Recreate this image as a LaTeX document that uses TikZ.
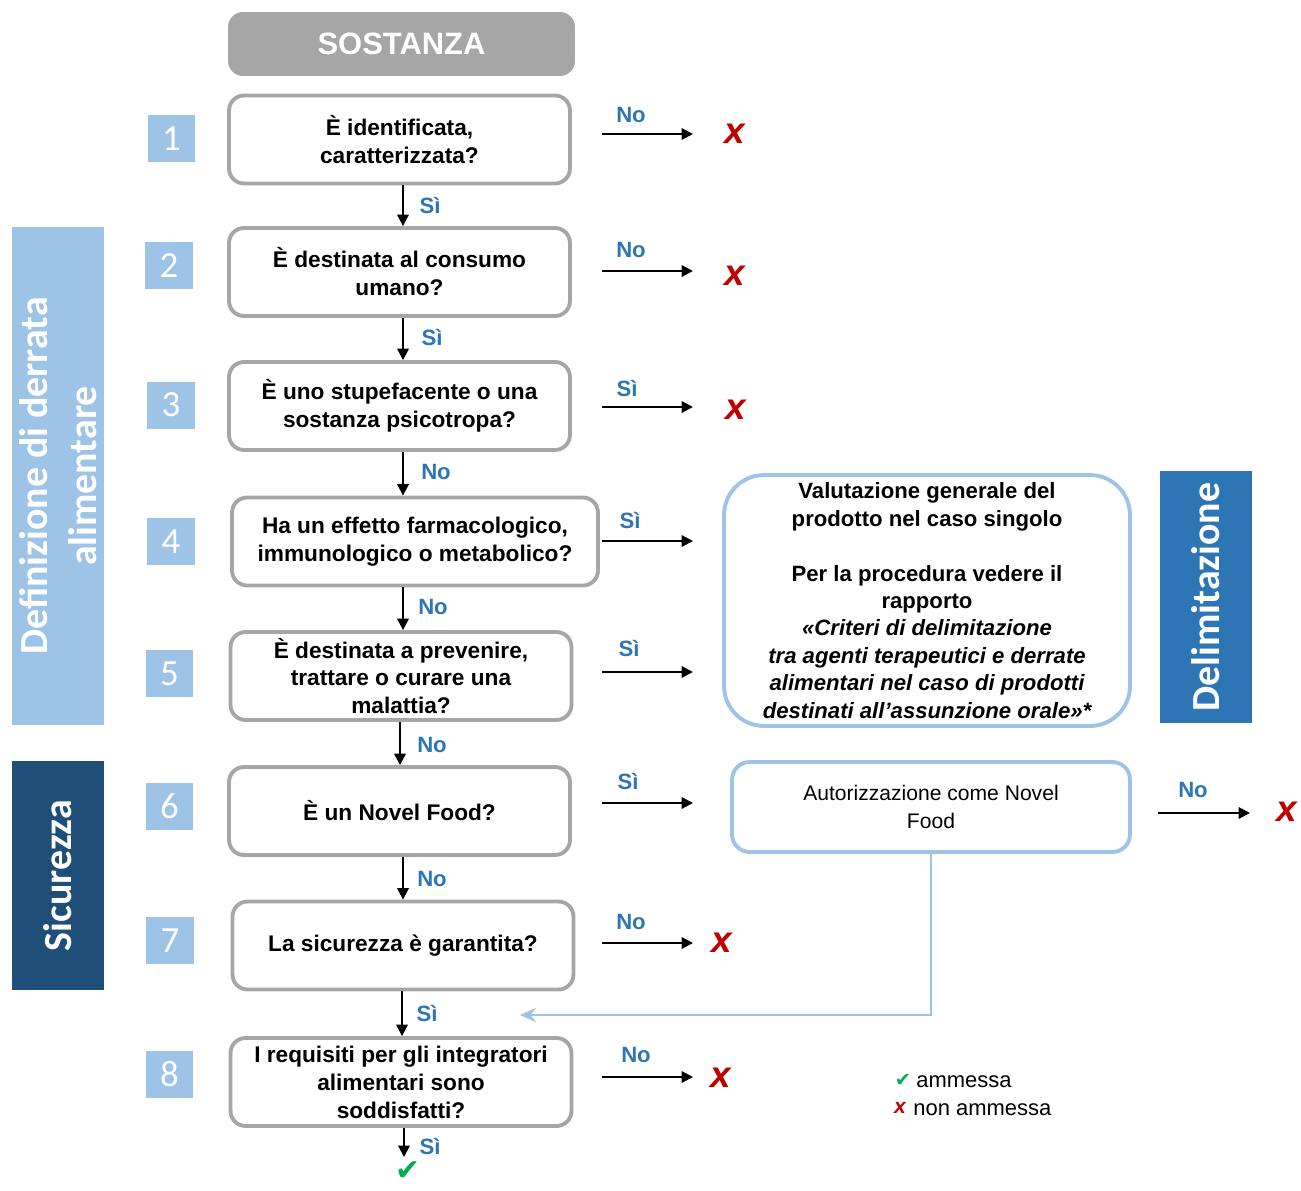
\documentclass[tikz,border=0pt]{standalone}
\usepackage{fontspec}
\setmainfont{Liberation Sans}
\newfontfamily\carl{Carlito}
\newfontfamily\djv{DejaVu Sans}
\usetikzlibrary{arrows.meta}
\definecolor{gbox}{HTML}{A6A6A6}
\definecolor{lblue}{HTML}{9DC3E6}
\definecolor{mblue}{HTML}{2E75B6}
\definecolor{dblue}{HTML}{1F4E79}
\definecolor{xred}{HTML}{C00000}
\definecolor{okgreen}{HTML}{00B050}
\begin{document}
\begin{tikzpicture}[x=0.02cm,y=-0.02cm,
  qbox/.style={draw=gbox, line width=2.2pt, rounded corners=0.3cm, fill=white,
    minimum width=6.82cm, minimum height=1.76cm, align=center, inner sep=0pt,
    font=\fontsize{12.9}{15.9}\selectfont\bfseries},
  bbox/.style={draw=lblue, line width=2.2pt, fill=white, align=center, inner sep=0pt},
  numbox/.style={fill=lblue, minimum width=0.96cm, minimum height=0.94cm, text=white,
    inner sep=0pt, font=\carl\fontsize{21}{21}\selectfont},
  band/.style={rotate=90, minimum height=1.84cm, text=white, align=center, inner sep=0pt,
    font=\carl\bfseries\fontsize{22.7}{28.3}\selectfont},
  arr/.style={line width=1.2pt, -{Triangle[length=6.5pt,width=6.5pt]}},
  lbarr/.style={draw=lblue, line width=1.6pt, -{Stealth[length=9pt,width=8pt]}},
  lab/.style={text=mblue, inner sep=0pt, font=\fontsize{12.6}{14}\selectfont\bfseries},
  nox/.style={text=xred, inner sep=0pt, font=\fontsize{21}{21}\selectfont\bfseries\itshape},
  okmark/.style={text=okgreen, inner sep=0pt, font=\djv\fontsize{17}{17}\selectfont},
  legtxt/.style={anchor=west, inner sep=0pt, font=\fontsize{12.5}{14}\selectfont}
]
\useasboundingbox (0,0) rectangle (1301,1190);

% side bands
\node[band, fill=lblue, minimum width=9.96cm] (bdef) at (58,476) {Definizione di derrata\\alimentare};
\node[band, fill=dblue, minimum width=4.58cm] (bsic) at (58,875.5) {Sicurezza};
\node[band, fill=mblue, minimum width=5.04cm] (bdel) at (1206,597) {Delimitazione};

% header
\node[fill=gbox, rounded corners=0.3cm, minimum width=6.94cm, minimum height=1.28cm,
  text=white, font=\fontsize{17.6}{20}\selectfont\bfseries] (sost) at (401.5,44) {SOSTANZA};

% question boxes
\node[qbox] (b1) at (399.5,139.5) {È identificata,\\caratterizzata?};
\node[qbox] (b2) at (399.5,272) {È destinata al consumo\\umano?};
\node[qbox] (b3) at (399.5,406) {È uno stupefacente o una\\sostanza psicotropa?};
\node[qbox, minimum width=7.32cm] (b4) at (415,541.5) {Ha un effetto farmacologico,\\immunologico o metabolico?};
\node[qbox] (b5) at (401,676) {È destinata a prevenire,\\trattare o curare una\\malattia?};
\node[qbox] (b6) at (399.5,811) {È un Novel Food?};
\node[qbox] (b7) at (403,945.5) {La sicurezza è garantita?};
\node[qbox] (b8) at (401,1082) {I requisiti per gli integratori\\alimentari sono\\soddisfatti?};

% number squares
\node[numbox] (n1) at (171.5,138.5) {1};
\node[numbox] (n2) at (169,265.5) {2};
\node[numbox] (n3) at (171,405) {3};
\node[numbox] (n4) at (171,541.5) {4};
\node[numbox] (n5) at (169.5,673.5) {5};
\node[numbox] (n6) at (169.5,806) {6};
\node[numbox] (n7) at (170,940.5) {7};
\node[numbox] (n8) at (169.5,1074.5) {8};

% right boxes
\node[bbox, rounded corners=0.8cm, minimum width=8.12cm, minimum height=5.02cm,
  font=\fontsize{12.6}{15.6}\selectfont\bfseries] (val) at (927,600.5)
  {Valutazione generale del\\prodotto nel caso singolo\\[15.6pt]
   Per la procedura vedere il\\rapporto\\
   \itshape «Criteri di delimitazione\\
   \itshape tra agenti terapeutici e derrate\\
   \itshape alimentari nel caso di prodotti\\
   \itshape destinati all’assunzione orale»*};
\node[bbox, rounded corners=0.35cm, minimum width=7.96cm, minimum height=1.8cm,
  font=\fontsize{12}{15.9}\selectfont] (aut) at (931,807) {Autorizzazione come Novel\\Food};

% vertical flow
\coordinate (ax) at (403,0);
\node[okmark] (ok) at (408,1171) {✔};
\draw[arr] (ax |- b1.south) -- (ax |- b2.north);
\draw[arr] (ax |- b2.south) -- (ax |- b3.north);
\draw[arr] (ax |- b3.south) -- (ax |- b4.north);
\draw[arr] (ax |- b4.south) -- (ax |- b5.north);
\draw[arr] (b5.south -| 400,0) -- (b6.north -| 400,0);
\draw[arr] (ax |- b6.south) -- (ax |- b7.north);
\draw[arr] (b7.south -| 402,0) -- (b8.north -| 402,0);
\draw[arr] (b8.south -| 404,0) -- (404,1157);
\node[lab] (l12) at (430,205) {Sì};
\node[lab] (l23) at (432,337) {Sì};
\node[lab] (l34) at (436,472) {No};
\node[lab] (l45) at (433,607) {No};
\node[lab] (l56) at (432,745) {No};
\node[lab] (l67) at (432,879) {No};
\node[lab] (l78) at (427,1013) {Sì};
\node[lab] (l89) at (430,1146) {Sì};

% crosses
\node[nox] (x1) at (735,134) {x};
\node[nox] (x2) at (735,276) {x};
\node[nox] (x3) at (736,410) {x};
\node[nox] (x7) at (722,943) {x};
\node[nox] (x8) at (721,1078) {x};
\node[nox] (xn) at (1287,812) {x};

% horizontal arrows
\coordinate (h1s) at (602,134);  \coordinate (h1e) at (693,134);
\coordinate (h2s) at (602,271);  \coordinate (h2e) at (693,271);
\coordinate (h3s) at (602,407);  \coordinate (h3e) at (693,407);
\coordinate (h4s) at (602,541);  \coordinate (h4e) at (693,541);
\coordinate (h5s) at (602,672);  \coordinate (h5e) at (693,672);
\coordinate (h6s) at (602,803);  \coordinate (h6e) at (693,803);
\coordinate (h7s) at (602,943);  \coordinate (h7e) at (693,943);
\coordinate (h8s) at (602,1077); \coordinate (h8e) at (693,1077);
\coordinate (hns) at (1158,813); \coordinate (hne) at (1250,813);
\foreach \i in {1,...,8,n} \draw[arr] (h\i s) -- (h\i e);
\node[lab] (r1) at (631,115) {No};
\node[lab] (r2) at (631,250) {No};
\node[lab] (r3) at (627,388) {Sì};
\node[lab] (r4) at (630,520) {Sì};
\node[lab] (r5) at (629,648) {Sì};
\node[lab] (r6) at (628,781) {Sì};
\node[lab] (r7) at (631,922) {No};
\node[lab] (r8) at (636,1055) {No};
\node[lab] (rn) at (1193,790) {No};

% novel food return
\coordinate (ret) at (520,1015);
\draw[lbarr] (aut.south) |- (ret);

% legend
\node[okmark, font=\djv\fontsize{11}{11}\selectfont] (lgok) at (903,1080) {✔};
\node[legtxt] (lgt1) at (916,1082) {ammessa};
\node[nox, font=\fontsize{12}{12}\selectfont\bfseries\itshape] (lgx) at (900,1108) {x};
\node[legtxt] (lgt2) at (913,1110) {non ammessa};
\end{tikzpicture}
\end{document}
